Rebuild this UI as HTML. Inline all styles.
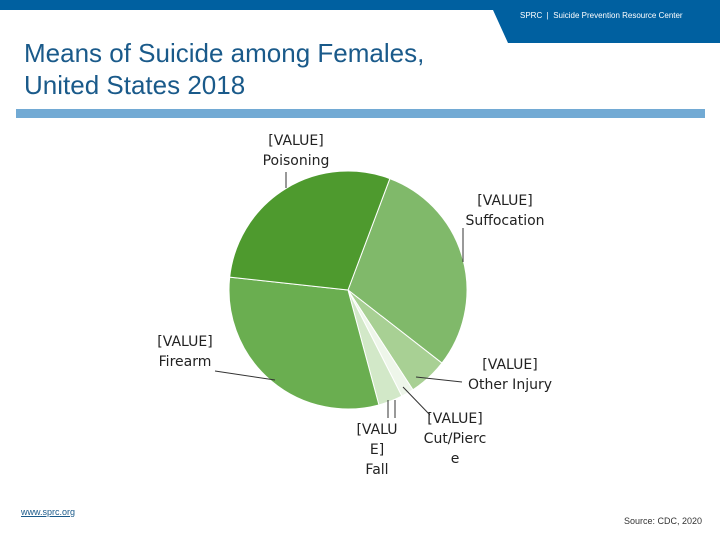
<!DOCTYPE html>
<html><head><meta charset="utf-8"><style>
body{margin:0;width:720px;height:540px;position:relative;background:#fff;overflow:hidden;font-family:"Liberation Sans",sans-serif}
.lbl{position:absolute;font-family:"DejaVu Sans","Liberation Sans",sans-serif;font-size:14px;color:#222;text-align:center;line-height:20px}
</style></head><body>
<div style="position:absolute;left:0;top:0;width:720px;height:10px;background:#0060a0"></div>
<svg style="position:absolute;left:0;top:0" width="720" height="45"><polygon points="493,10 720,10 720,43 508,43" fill="#0060a0"/></svg>
<div style="position:absolute;left:520px;top:10px;font-size:8px;color:#fff;line-height:12px">SPRC &nbsp;|&nbsp; Suicide Prevention Resource Center</div>
<div style="position:absolute;left:24px;top:37px;font-size:26px;color:#1a5a8a;line-height:32px">Means of Suicide among Females,<br>United States 2018</div>
<div style="position:absolute;left:16px;top:109px;width:689px;height:9px;background:#72aad4"></div>
<svg id="pie" style="position:absolute;left:0;top:0" width="720" height="540"></svg>
<div class="lbl" style="left:246px;top:131px;width:100px">[VALUE]<br>Poisoning</div>
<div class="lbl" style="left:455px;top:191px;width:100px">[VALUE]<br>Suffocation</div>
<div class="lbl" style="left:135px;top:332px;width:100px">[VALUE]<br>Firearm</div>
<div class="lbl" style="left:460px;top:355px;width:100px">[VALUE]<br>Other Injury</div>
<div class="lbl" style="left:405px;top:409px;width:100px">[VALUE]<br>Cut/Pierc<br>e</div>
<div class="lbl" style="left:347px;top:420px;width:60px">[VALU<br>E]<br>Fall</div>
<div style="position:absolute;left:21px;top:507px;font-size:9px;color:#1a5a8a;text-decoration:underline">www.sprc.org</div>
<div style="position:absolute;left:624px;top:516px;font-size:9px;color:#333">Source: CDC, 2020</div>
<script>
const categories=["Suffocation","Other Injury","Cut/Pierce","Fall","Firearm","Poisoning"];
const values=[29.8,5.3,1.7,3.3,30.9,29.0];
const colors=["#80b96a","#a8d094","#eef6ea","#d2e8c8","#6aae50","#4e9a2e"];
const svg=document.getElementById('pie');
const NS="http://www.w3.org/2000/svg";
const cx=348,cy=290,r=119,start=20.6;
const total=values.reduce((a,b)=>a+b,0);
function pt(a,rr){const t=a*Math.PI/180;return [cx+rr*Math.sin(t),cy-rr*Math.cos(t)];}
let a=start;
values.forEach((v,i)=>{
  const sweep=v/total*360;const p1=pt(a,r),p2=pt(a+sweep,r);
  const p=document.createElementNS(NS,'path');
  p.setAttribute('d',`M${cx},${cy}L${p1[0]},${p1[1]}A${r},${r} 0 ${sweep>180?1:0} 1 ${p2[0]},${p2[1]}Z`);
  p.setAttribute('fill',colors[i]);p.setAttribute('stroke','#fff');p.setAttribute('stroke-width','1');
  
  
  svg.appendChild(p);a+=sweep;
});
const leaders=[[286,172,286,188],[463,228,463,262],[215,371,275,380],[462,382,416,377],[430,415,403,387],[388,418,388,400],[395,418,395,400]];
leaders.forEach(l=>{const e=document.createElementNS(NS,'line');
e.setAttribute('x1',l[0]);e.setAttribute('y1',l[1]);e.setAttribute('x2',l[2]);e.setAttribute('y2',l[3]);
e.setAttribute('stroke','#333');e.setAttribute('stroke-width','1');


svg.appendChild(e);});
</script>
</body></html>
